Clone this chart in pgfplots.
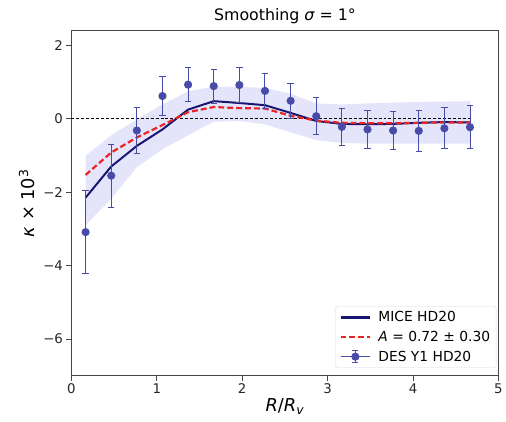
\documentclass[border=0pt]{standalone}
\usepackage{fontspec}
\setmainfont{DejaVu Sans}
\usepackage{pgfplots}
\pgfplotsset{compat=1.18}
\definecolor{micenavy}{RGB}{22,22,112}
\definecolor{desblue}{RGB}{72,76,168}
\definecolor{bandcol}{RGB}{228,229,251}
\definecolor{redA}{RGB}{232,36,36}
\definecolor{axgray}{RGB}{70,70,70}
\begin{document}
\begin{tikzpicture}
\begin{axis}[
  scale only axis,
  width=431bp, height=348bp,
  xmin=0, xmax=5, ymin=-7, ymax=2.4,
  xtick={0,1,2,3,4,5},
  ytick={-6,-4,-2,0,2},
  yticklabels={−6,−4,−2,0,2},
  /pgf/number format/assume math mode=true,
  tick align=outside, tick pos=left,
  major tick length=5bp,
  every tick/.style={axgray, line width=0.8bp},
  axis line style={axgray, line width=0.8bp},
  tick label style={font=\fontsize{13.5}{16}\selectfont, color=black!85},
  title={Smoothing {\itshape σ} = 1°},
  title style={font=\fontsize{16}{19}\selectfont, yshift=-2bp},
  xlabel={\textit{R}/\textit{R}\textsubscript{\textit{v}}},
  ylabel={\textit{κ} × 10\textsuperscript{3}},
  label style={font=\fontsize{18}{21}\selectfont},
  xlabel style={yshift=2bp},
  ylabel style={yshift=2bp},
  legend cell align=left,
  legend style={at={(0.995,0.023)}, anchor=south east, rounded corners=2pt, fill=white,
    font=\fontsize{14}{16}\selectfont, row sep=4bp, column sep=5bp, inner xsep=4bp, inner ysep=3bp,
    draw=black!15},
]
% shaded band
\addplot[fill=bandcol, draw=none, forget plot] coordinates {
(0.1667,-1.01) (0.4667,-0.45) (0.7667,-0.02) (1.0667,0.39) (1.3667,0.75) (1.6667,0.88) (1.9667,0.87) (2.2667,0.84) (2.5667,0.68) (2.8667,0.42) (3.1667,0.39) (3.4667,0.42) (3.7667,0.44) (4.0667,0.46) (4.3667,0.47) (4.6667,0.48)
(4.6667,-0.68) (4.3667,-0.68) (4.0667,-0.68) (3.7667,-0.68) (3.4667,-0.68) (3.1667,-0.66) (2.8667,-0.58) (2.5667,-0.37) (2.2667,-0.15) (1.9667,-0.06) (1.6667,-0.08) (1.3667,-0.45) (1.0667,-0.83) (0.7667,-1.32) (0.4667,-2.18) (0.1667,-2.90)
} -- cycle;
% zero line
\addplot[black, line width=0.8bp, dash pattern=on 3bp off 2bp, forget plot] coordinates {(0,0) (4.6667,0)};
% MICE
\addplot[draw=micenavy, line width=2bp,
  legend image code/.code={\draw[draw=micenavy, line width=2.5bp] (0bp,0bp) -- (30bp,0bp);}] coordinates {
(0.1667,-2.15) (0.4667,-1.30) (0.7667,-0.74) (1.0667,-0.29) (1.3667,0.25) (1.6667,0.48) (1.9667,0.43) (2.2667,0.37) (2.5667,0.16) (2.8667,-0.06) (3.1667,-0.14) (3.4667,-0.15) (3.7667,-0.14) (4.0667,-0.11) (4.3667,-0.09) (4.6667,-0.10)
};
\addlegendentry{MICE HD20}
% A fit
\addplot[draw=redA, line width=2.2bp, dash pattern=on 6bp off 3bp,
  legend image code/.code={\draw[draw=redA, line width=2.6bp, dash pattern=on 6bp off 3bp] (0bp,0bp) -- (30bp,0bp);}] coordinates {
(0.1667,-1.53) (0.4667,-0.92) (0.7667,-0.51) (1.0667,-0.17) (1.3667,0.18) (1.6667,0.32) (1.9667,0.29) (2.2667,0.28) (2.5667,0.08) (2.8667,-0.05) (3.1667,-0.11) (3.4667,-0.12) (3.7667,-0.12) (4.0667,-0.11) (4.3667,-0.10) (4.6667,-0.10)
};
\addlegendentry{\textit{A} = 0.72 ± 0.30}
% DES Y1
\addplot[draw=desblue, line width=1bp, only marks, mark=*, mark size=3.6bp, mark options={draw=desblue, fill=desblue},
  legend image code/.code={
    \draw[draw=desblue, line width=1.5bp] (0bp,0bp) -- (30bp,0bp);
    \draw[draw=desblue, line width=1.5bp] (15bp,-6bp) -- (15bp,6bp);
    \draw[draw=desblue, line width=1.5bp] (12bp,-6bp) -- (18bp,-6bp);
    \draw[draw=desblue, line width=1.5bp] (12bp,6bp) -- (18bp,6bp);
    \fill[desblue] (15bp,0bp) circle (3.6bp);},
  error bars/.cd, y dir=both, y explicit,
  error bar style={draw=desblue, line width=1bp},
  error mark options={rotate=90, mark size=3.2bp, draw=desblue, line width=1bp},
] coordinates {
(0.1667,-3.09) +- (0,1.13)
(0.4667,-1.55) +- (0,0.86)
(0.7667,-0.32) +- (0,0.64)
(1.0667,0.62) +- (0,0.52)
(1.3667,0.93) +- (0,0.47)
(1.6667,0.89) +- (0,0.46)
(1.9667,0.92) +- (0,0.47)
(2.2667,0.76) +- (0,0.47)
(2.5667,0.49) +- (0,0.48)
(2.8667,0.07) +- (0,0.50)
(3.1667,-0.22) +- (0,0.51)
(3.4667,-0.29) +- (0,0.52)
(3.7667,-0.32) +- (0,0.53)
(4.0667,-0.33) +- (0,0.55)
(4.3667,-0.26) +- (0,0.56)
(4.6667,-0.23) +- (0,0.58)
};
\addlegendentry{DES Y1 HD20}
\end{axis}
\path (current axis.south west) ++(-72bp,-46bp);
\path (current axis.north east) ++(3bp,31bp);
\end{tikzpicture}
\end{document}
